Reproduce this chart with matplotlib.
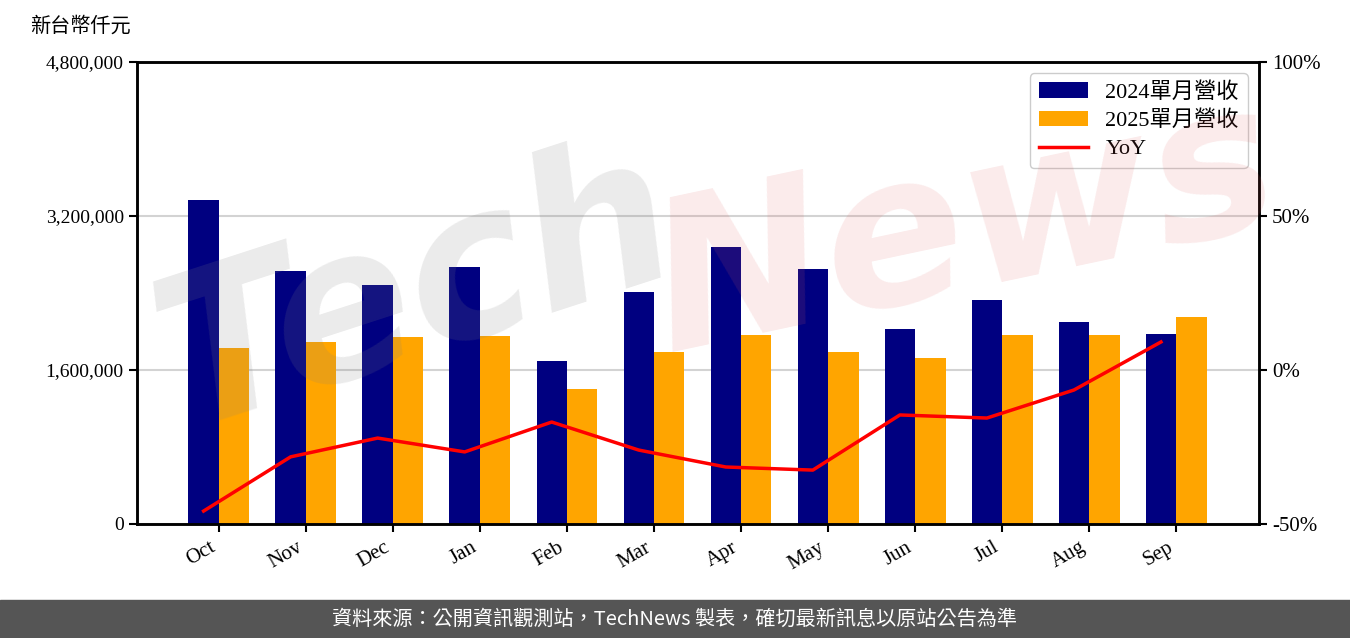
import matplotlib
matplotlib.use("Agg")
import matplotlib.pyplot as plt
import numpy as np
from matplotlib.ticker import FuncFormatter

plt.rcParams["font.family"] = ["Liberation Serif", "Noto Sans CJK TC"]

months = ["Oct", "Nov", "Dec", "Jan", "Feb", "Mar", "Apr", "May", "Jun", "Jul", "Aug", "Sep"]
rev_2024 = [3366000, 2629000, 2483000, 2670000, 1694000, 2410000,
            2878000, 2649000, 2026000, 2327000, 2099000, 1974000]
rev_2025 = [1829000, 1891000, 1943000, 1953000, 1403000, 1787000,
            1964000, 1787000, 1725000, 1964000, 1964000, 2151000]
yoy = [-45.8, -28.2, -22.1, -26.6, -16.9, -26.0, -31.5, -32.5, -14.6, -15.6, -6.5, 9.1]

left_ticks = [0, 1600000, 3200000, 4800000]
right_ticks = [-50, 0, 50, 100]

fig = plt.figure(figsize=(13.5, 6.38), dpi=100)
ax = fig.add_axes([0.1015, 0.1787, 0.831, 0.7241])
ax2 = ax.twinx()

x = np.arange(len(months))
w = 0.35
ax.bar(x - w / 2, rev_2024, w, color="#000080", label="2024單月營收", zorder=2)
ax.bar(x + w / 2, rev_2025, w, color="#FFA500", label="2025單月營收", zorder=2)
ax2.plot(x - w / 2, yoy, color="#FF0000", lw=2.5, label="YoY")

ax.set_ylim(0, 4800000)
ax.set_yticks(left_ticks)
ax.yaxis.set_major_formatter(FuncFormatter(lambda v, p: f"{int(v):,}"))
ax.grid(axis="y", color="#d3d3d3", lw=1.5, zorder=0)
ax.set_xlim(-0.94, 11.95)
ax.set_xticks(x)
ax.set_xticklabels(months, rotation=30, ha="right")

ax2.set_ylim(-50, 100)
ax2.set_yticks(right_ticks)
ax2.yaxis.set_major_formatter(FuncFormatter(lambda v, p: f"{int(v)}%"))

for a in (ax, ax2):
    a.tick_params(labelsize=14, length=6, width=1.5, colors="black")
    for s in a.spines.values():
        s.set_linewidth(1.8)
ax.tick_params(axis="x", labelsize=15, pad=4)
ax2.tick_params(labelsize=15)

h1, l1 = ax.get_legend_handles_labels()
h2, l2 = ax2.get_legend_handles_labels()
ax2.legend(h1 + h2, l1 + l2, loc="upper right", fontsize=16, framealpha=1,
           edgecolor="#cccccc", handlelength=2.2, borderpad=0.4, labelspacing=0.35)

fig.text(0.022, 0.958, "新台幣仟元", fontsize=14.5, ha="left", va="center")

# watermark
fig.text(0.10, 0.33, "Tech", fontsize=150, color="#808080", alpha=0.16,
         rotation=18, fontstyle="italic", family="DejaVu Sans", weight="bold", zorder=10)
fig.text(0.47, 0.45, "News", fontsize=150, color="#e06060", alpha=0.13,
         rotation=12, fontstyle="italic", family="DejaVu Sans", weight="bold", zorder=10)

# footer band
fig.patches.append(plt.Rectangle((0, 0), 1, 38 / 638, transform=fig.transFigure,
                                 color="#555555", zorder=0))
fig.text(0.5, 19 / 638, "資料來源：公開資訊觀測站，TechNews 製表，確切最新訊息以原站公告為準",
         color="white", fontsize=14.5, ha="center", va="center",
         family=["Noto Sans CJK TC", "DejaVu Sans"])

fig.savefig("out.png", dpi=100)
